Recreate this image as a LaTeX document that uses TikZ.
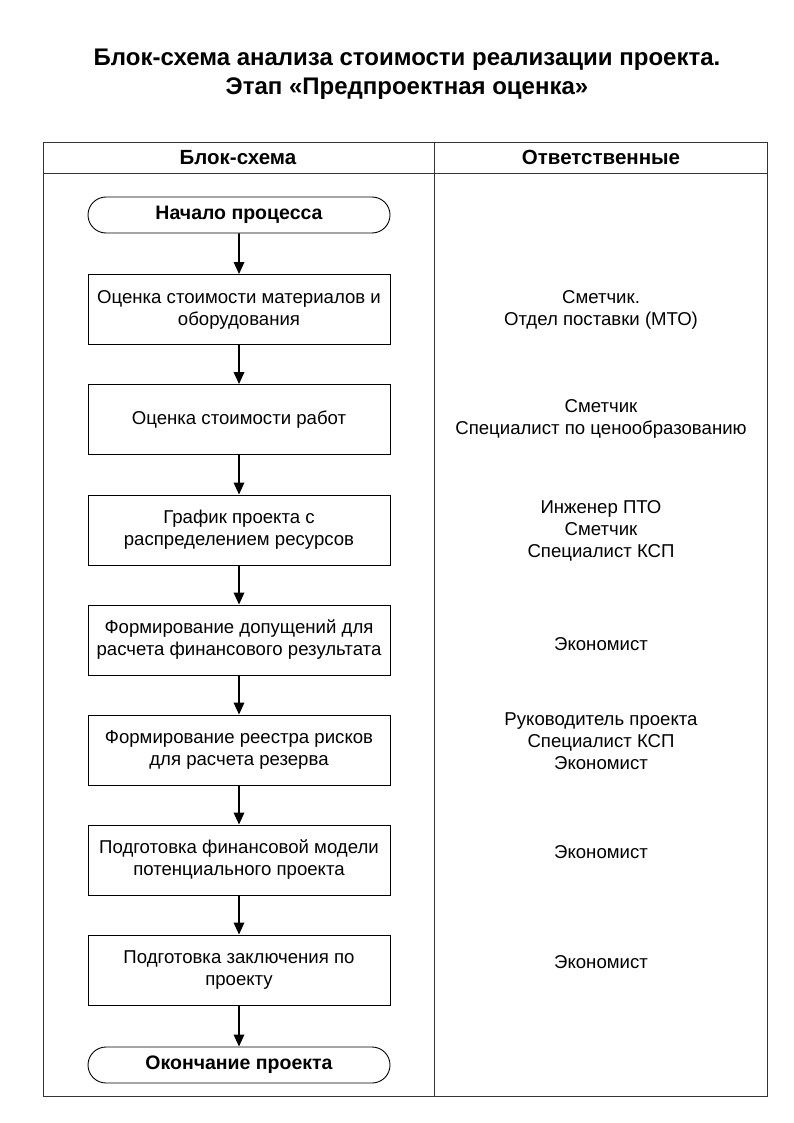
\documentclass[tikz,border=0pt]{standalone}
\usepackage{fontspec}
\setmainfont{Liberation Sans}
\usetikzlibrary{arrows.meta,shapes.misc}
\begin{document}
\begin{tikzpicture}[x=1pt,y=-1pt,
  txt/.style={font=\fontsize{18.6}{22}\selectfont, align=center, inner sep=0pt},
  hdr/.style={font=\bfseries\fontsize{20.5}{22}\selectfont, inner sep=0pt, anchor=base},
  procbox/.style={draw, line width=0.9pt, minimum width=302pt, minimum height=70pt, txt},
  term/.style={draw, line width=0.9pt, rounded rectangle, minimum width=302pt, minimum height=36pt, font=\bfseries\fontsize{19.5}{22}\selectfont, inner sep=0pt},
  flow/.style={-{Triangle[length=12pt,width=10.5pt]}, line width=1.8pt},
  grid/.style={line width=0.9pt, draw=black!80}]
\useasboundingbox (0,0) rectangle (794,1123);
% title
\node[font=\bfseries\fontsize{24}{29}\selectfont, align=center, inner sep=0pt] (title) at (407,74)
  {Блок-схема анализа стоимости реализации проекта.\\Этап «Предпроектная оценка»};
% table
\draw[grid] (43,142) rectangle (767,1096);
\draw[grid] (43,173) -- (767,173);
\draw[grid] (434,142) -- (434,1096);
\node[hdr] (h1) at (238,164.5) {Блок-схема};
\node[hdr] (h2) at (601,164.5) {Ответственные};
% flow
\node[term] (start) at (239,215) {Начало процесса};
\node[procbox] (b1) at (239,309.5) {Оценка стоимости материалов и\\оборудования};
\node[procbox] (b2) at (239,419.5) {Оценка стоимости работ};
\node[procbox] (b3) at (239,530) {График проекта с\\распределением ресурсов};
\node[procbox] (b4) at (239,640) {Формирование допущений для\\расчета финансового результата};
\node[procbox] (b5) at (239,750) {Формирование реестра рисков\\для расчета резерва};
\node[procbox] (b6) at (239,860) {Подготовка финансовой модели\\потенциального проекта};
\node[procbox] (b7) at (239,970) {Подготовка заключения по\\проекту};
\node[term] (end) at (239,1065) {Окончание проекта};
\draw[flow] (start) -- (b1);
\draw[flow] (b1) -- (b2);
\draw[flow] (b2) -- (b3);
\draw[flow] (b3) -- (b4);
\draw[flow] (b4) -- (b5);
\draw[flow] (b5) -- (b6);
\draw[flow] (b6) -- (b7);
\draw[flow] (b7) -- (end);
% responsible
\node[txt] (r1) at (601,310) {Сметчик.\\Отдел поставки (МТО)};
\node[txt] (r2) at (601,419) {Сметчик\\Специалист по ценообразованию};
\node[txt] (r3) at (601,531) {Инженер ПТО\\Сметчик\\Специалист КСП};
\node[txt] (r4) at (601,644) {Экономист};
\node[txt] (r5) at (601,741) {Руководитель проекта\\Специалист КСП\\Экономист};
\node[txt] (r6) at (601,852) {Экономист};
\node[txt] (r7) at (601,962) {Экономист};
\end{tikzpicture}
\end{document}
